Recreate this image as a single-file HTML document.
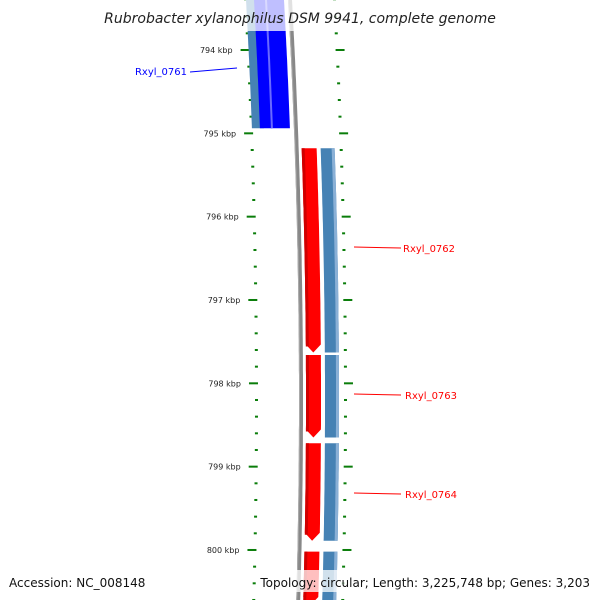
<!DOCTYPE html>
<html><head><meta charset="utf-8"><style>
body{margin:0;background:#fff}
svg{display:block;font-family:"DejaVu Sans","Liberation Sans",sans-serif}
</style></head><body>
<svg id="map" width="600" height="600" viewBox="0 0 600 600"></svg>
<script>
const tickKbp=[794,795,796,797,798,799,800];
const fwdGenes=[{name:"Rxyl_0761",start:793.4,end:794.94}];
const revGenes=[{name:"Rxyl_0762",start:795.18,end:797.63},{name:"Rxyl_0763",start:797.66,end:798.65},{name:"Rxyl_0764",start:798.72,end:799.89},{name:"Rxyl_0765",start:800.02,end:801}];
const labelY=[248,395,494];
const NS="http://www.w3.org/2000/svg";
const svgEl=document.getElementById('map');
function Y(k){return 50+(k-794)*83.33;}
function dx(y){return -((y-400)*(y-400))/14545;}
function mk(tag,attrs,parent){const e=document.createElementNS(NS,tag);for(const k in attrs)e.setAttribute(k,attrs[k]);(parent||svgEl).appendChild(e);return e;}
function strip(x1,x2,y1,y2,fill,arrow,name){
  y1=Math.max(y1,-5);y2=Math.min(y2,605);
  let L=[],R=[];const head=arrow?8:0;const ye=y2-head;
  for(let y=y1;y<=ye;y+=5){L.push([x1+dx(y),y]);R.push([x2+dx(y),y]);}
  L.push([x1+dx(ye),ye]);R.push([x2+dx(ye),ye]);
  let pts=L.slice();
  if(arrow)pts.push([(x1+x2)/2+dx(y2),y2]);
  pts=pts.concat(R.reverse());
  const p=mk('polygon',{points:pts.map(p=>p[0].toFixed(1)+','+p[1].toFixed(1)).join(' '),fill:fill});
  
  
  return p;
}
strip(299,303,-5,605,'#888',false,'backbone');
strip(299,300,-5,605,'#aaa',false,'backbone-highlight');
for(let k=793;k<=801;k+=0.2){
  const y=Y(k);if(y<-2||y>602)continue;
  const major=Math.abs(k-Math.round(k))<0.01;
  const d=dx(y);
  const l=mk('rect',{x:(major?249:255)+d,y:y-1,width:major?9:3,height:2,fill:'#0a7d0a'});
  
  
  const r=mk('rect',{x:344+d,y:y-1,width:major?9:3,height:2,fill:'#0a7d0a'});
  
  
}
tickKbp.forEach(k=>{const y=Y(k);
  const t=mk('text',{x:241+dx(y),y:y+3,'font-size':8,'text-anchor':'end',fill:'#222'});
  t.textContent=k+' kbp';
  
  
});
fwdGenes.forEach(g=>{const y1=Y(g.start),y2=Y(g.end);
  strip(257,269,y1,y2,'#4682b4',false,'gene-cog-forward');
  strip(265,277,y1,y2,'#0000ff',false,'gene-forward');
  strip(276,295,y1,y2,'#0000ff',false,'gene-forward-2');
  strip(276,278,y1,y2,'#6a6aff',false,'gene-edge');
});
revGenes.forEach(g=>{const y1=Y(g.start),y2=Y(g.end);
  strip(306,321,y1,y2,'#ff0000',true,'gene-reverse');
  strip(306,309,y1,y2-6,'#d00000',false,'gene-shade');
  strip(325,339,y1,y2,'#4682b4',false,'gene-cog-reverse');
  strip(336,339,y1,y2,'#8ab0d6',false,'gene-cog-edge');
});
const lb=mk('line',{x1:190,y1:72,x2:237,y2:68,stroke:'#0000ff','stroke-width':1});


const tb=mk('text',{x:187,y:75,'font-size':10,'text-anchor':'end',fill:'#0000ff'});
tb.textContent=fwdGenes[0].name;


labelY.forEach((y,i)=>{
  const ln=mk('line',{x1:354,y1:y-1,x2:401,y2:y,stroke:'#ff0000','stroke-width':1});
  
  
  const t=mk('text',{x:i==0?403:405,y:y+4,'font-size':10,fill:'#ff0000'});
  t.textContent=revGenes[i].name;
  
  
});
const tbg=mk('rect',{x:0,y:0,width:600,height:31,fill:'#fff','fill-opacity':0.75});


const titleEl=mk('text',{x:300,y:23,'font-size':14,'font-style':'italic','text-anchor':'middle',fill:'#222'});
titleEl.textContent='Rubrobacter xylanophilus DSM 9941, complete genome';


const fbg=mk('rect',{x:258,y:570,width:342,height:22,fill:'#fff','fill-opacity':0.75});


const acc=mk('text',{x:9,y:587,'font-size':12,fill:'#111'});
acc.textContent='Accession: NC_008148';


const topo=mk('text',{x:590,y:587,'font-size':12,'text-anchor':'end',fill:'#111'});
topo.textContent='Topology: circular; Length: 3,225,748 bp; Genes: 3,203';


</script>
</body></html>
